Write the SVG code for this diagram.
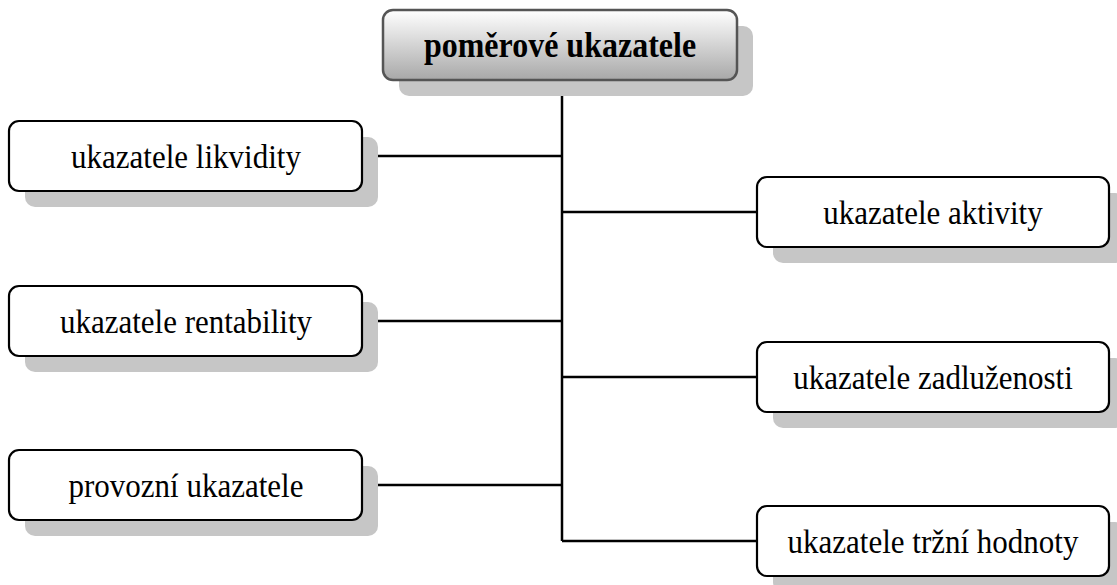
<svg xmlns="http://www.w3.org/2000/svg" width="1117" height="585" viewBox="0 0 1117 585">
<defs>
<linearGradient id="g" x1="0" y1="0" x2="0" y2="1">
<stop offset="0" stop-color="#ffffff"/>
<stop offset="1" stop-color="#a8a8a8"/>
</linearGradient>
<style>
.sh{fill:#c6c6c6;stroke:none}
.box{fill:#fff;stroke:#000;stroke-width:2.2}
.top{fill:url(#g);stroke:#555;stroke-width:2.5}
.t{font-family:"Liberation Serif","Times New Roman",serif;font-size:31px;fill:#000;text-anchor:middle}
.tb{font-family:"Liberation Serif","Times New Roman",serif;font-size:32px;font-weight:bold;fill:#000;text-anchor:middle}
.c{stroke:#000;stroke-width:2.5;fill:none}
</style>
</defs>
<rect width="1117" height="585" fill="#fff"/>
<g id="connectors">
<path class="c" d="M562 80V541"/>
<path class="c" d="M362 156H562M362 321H562M362 485H562"/>
<path class="c" d="M562 212H757M562 377H757M562 541H757"/>
</g>
<g id="n-top">
<rect class="sh" x="399" y="26" width="354" height="70" rx="10"/>
<rect class="top" x="383" y="10" width="354" height="70" rx="10"/>
<text class="tb" transform="translate(560 57) scale(1 1.12)">poměrové ukazatele</text>
</g>
<g id="n-likvidity">
<rect class="sh" x="25" y="137" width="353" height="70" rx="10"/>
<rect class="box" x="9" y="121" width="353" height="70" rx="10"/>
<text class="t" transform="translate(186 168) scale(1 1.12)">ukazatele likvidity</text>
</g>
<g id="n-rentability">
<rect class="sh" x="25" y="302" width="353" height="70" rx="10"/>
<rect class="box" x="9" y="286" width="353" height="70" rx="10"/>
<text class="t" transform="translate(186 333) scale(1 1.12)">ukazatele rentability</text>
</g>
<g id="n-provozni">
<rect class="sh" x="25" y="466" width="353" height="70" rx="10"/>
<rect class="box" x="9" y="450" width="353" height="70" rx="10"/>
<text class="t" transform="translate(186 497) scale(1 1.12)">provozní ukazatele</text>
</g>
<g id="n-aktivity">
<rect class="sh" x="773" y="193" width="352" height="70" rx="10"/>
<rect class="box" x="757" y="177" width="352" height="70" rx="10"/>
<text class="t" transform="translate(933 224) scale(1 1.12)">ukazatele aktivity</text>
</g>
<g id="n-zadluzenosti">
<rect class="sh" x="773" y="358" width="352" height="70" rx="10"/>
<rect class="box" x="757" y="342" width="352" height="70" rx="10"/>
<text class="t" transform="translate(933 389) scale(1 1.12)">ukazatele zadluženosti</text>
</g>
<g id="n-trzni">
<rect class="sh" x="773" y="522" width="352" height="70" rx="10"/>
<rect class="box" x="757" y="506" width="352" height="70" rx="10"/>
<text class="t" transform="translate(933 553) scale(1 1.12)">ukazatele tržní hodnoty</text>
</g>
</svg>
